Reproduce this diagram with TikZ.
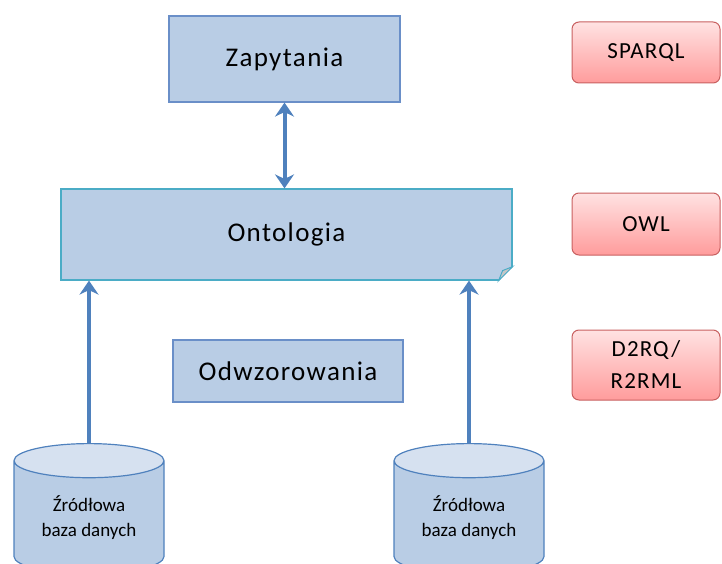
\documentclass[tikz,border=0pt]{standalone}
\usepackage{fontspec}
\setmainfont{Carlito}
\newfontfamily\spacedfont[LetterSpace=5]{Carlito}
\usetikzlibrary{shapes.geometric, arrows.meta, positioning, calc}

\definecolor{boxfill}{HTML}{B9CDE5}
\definecolor{boxline}{HTML}{6A8FC8}
\definecolor{ontoline}{HTML}{4BACC6}
\definecolor{arrowblue}{HTML}{4F81BD}
\definecolor{dbtop}{HTML}{D6E1F0}
\definecolor{redtop}{HTML}{FFE2E2}
\definecolor{redbot}{HTML}{FF9C9C}
\definecolor{redline}{HTML}{C86060}

\begin{document}
\begin{tikzpicture}[x=1pt, y=-1pt,
    layer/.style = {rectangle, draw=boxline, fill=boxfill, line width=1.2pt, align=center, font=\spacedfont\fontsize{27}{30}\selectfont, inner sep=0pt},
    tech/.style = {rectangle, rounded corners=7pt, draw=redline, top color=redtop, bottom color=redbot, line width=1pt, align=center, minimum width=148pt, font=\spacedfont\fontsize{23}{32}\selectfont, inner sep=0pt},
    db/.style = {cylinder, shape border rotate=90, aspect=0.36, draw=arrowblue, line width=1.2pt, cylinder uses custom fill, cylinder body fill=boxfill, cylinder end fill=dbtop, minimum width=150pt, minimum height=130pt, align=center, font=\fontsize{19}{25}\selectfont, inner sep=0pt, anchor=top},
    arrow/.style = {draw=arrowblue, line width=4pt, -{Stealth[length=14pt,width=19pt]}}
]
\clip (0,0) rectangle (722,564);

\node (query) [layer, minimum width=231pt, minimum height=86pt] at (284.5,59) {Zapytania};
\node (onto) [layer, draw=ontoline, minimum width=451pt, minimum height=91pt] at (286.5,234.5) {Ontologia};
\node (map) [layer, minimum width=230pt, minimum height=62pt] at (288,371) {Odwzorowania};

% folded corner of the ontology box
\fill[white] ($(onto.south east)+(0.8,-14)$) -- ($(onto.south east)+(0.8,0.8)$) -- ($(onto.south east)+(-14,0.8)$) -- cycle;
\filldraw[draw=ontoline, fill=gray!45, line width=1pt] ($(onto.south east)+(0,-14)$) -- ($(onto.south east)+(-14,0)$) -- ($(onto.south east)+(-10,-10)$) -- cycle;

\node (src1) [db] at (89,443) {Źródłowa\\baza danych};
\node (src2) [db] at (469,443) {Źródłowa\\baza danych};

\node (sparql) [tech, minimum height=61pt] at (646,52.5) {SPARQL};
\node (owl) [tech, minimum height=62pt] at (646,224) {OWL};
\node (r2rml) [tech, minimum height=70pt] at (646,365) {D2RQ/\\R2RML};

\draw [arrow, {Stealth[length=14pt,width=19pt]}-{Stealth[length=14pt,width=19pt]}] (query.south) -- (query.south |- onto.north);
\draw [arrow] (src1.top) -- (src1.top |- onto.south);
\draw [arrow] (src2.top) -- (src2.top |- onto.south);
\end{tikzpicture}
\end{document}
